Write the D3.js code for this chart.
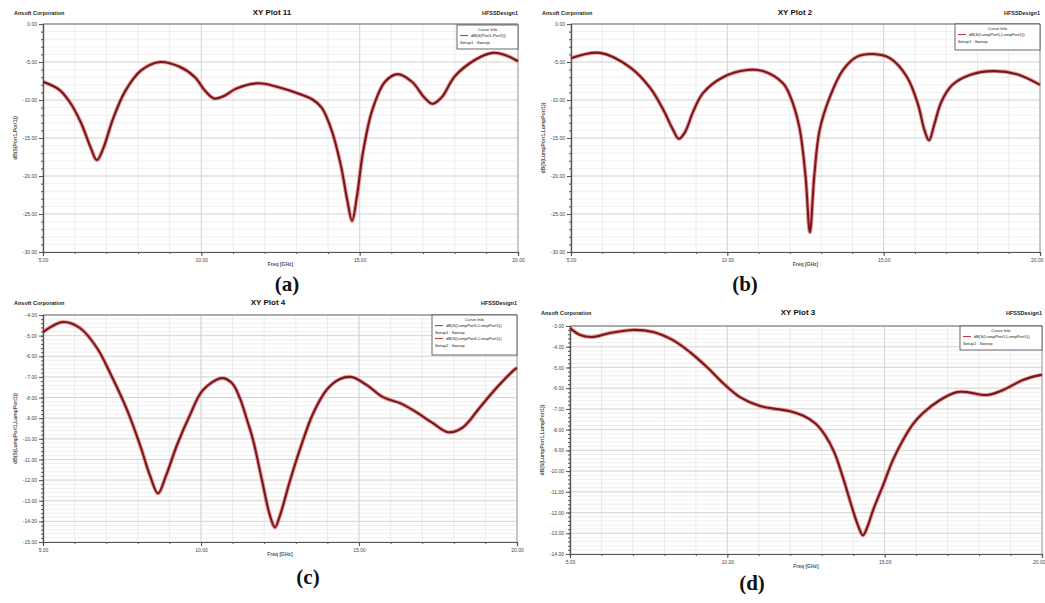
<!DOCTYPE html>
<html lang="en">
<head>
<meta charset="UTF-8" />
<title>HFSS XY Plots</title>
<style>
  body { margin: 0; background: #fff; }
  svg { display: block; font-family: Arial, "Liberation Sans", sans-serif; }
  .head { font-size: 5.5px; font-weight: bold; fill: #222; }
  .plot-title { font-size: 8px; font-weight: bold; fill: #111; }
  .tick-lbl text { font-size: 5px; fill: #444; }
  .axis path, .axis line { stroke: #555; }
  .ylab, .xlab { font-size: 5px; font-weight: bold; fill: #555; }
  .tag { font-family: "Liberation Serif", "DejaVu Serif", serif; font-size: 21px; font-weight: bold; fill: #111; }
  .legend text { font-size: 4.2px; fill: #222; }
</style>
</head>
<body>
<svg width="1045" height="603"></svg>
<script src="https://d3js.org/d3.v7.min.js"></script>
<script>
// --- values (Freq in GHz, dB) ---
const xTicks = [5, 10, 15, 20];

const freqA = [5.0, 5.5, 5.85, 6.2, 6.5, 6.7, 6.9, 7.2, 7.6, 8.1, 8.7, 9.3, 9.8, 10.1, 10.4, 10.7, 11.1, 11.8, 12.5, 13.1, 13.5, 13.8, 14.1, 14.4, 14.6, 14.76, 14.92, 15.1, 15.4, 15.8, 16.2, 16.65, 17.05, 17.3, 17.6, 18.0, 18.65, 19.2, 19.6, 20.0];
const dbA   = [-7.6, -8.6, -10.3, -13.0, -16.2, -17.9, -16.4, -12.6, -8.8, -6.1, -5.0, -5.6, -7.0, -8.7, -9.8, -9.5, -8.5, -7.8, -8.4, -9.2, -9.9, -11.0, -13.8, -18.5, -23.0, -25.9, -22.5, -17.0, -11.3, -7.6, -6.6, -7.6, -9.7, -10.5, -9.6, -6.9, -4.7, -3.8, -4.1, -4.9];

const freqB = [5.0, 5.93, 6.89, 7.53, 7.94, 8.25, 8.45, 8.65, 8.9, 9.22, 9.86, 10.63, 11.14, 11.78, 12.0, 12.3, 12.5, 12.64, 12.78, 12.95, 13.28, 13.7, 14.15, 14.66, 15.2, 15.75, 16.1, 16.3, 16.45, 16.62, 16.85, 17.2, 17.76, 18.5, 19.26, 20.0];
const dbB   = [-4.5, -3.8, -5.7, -8.4, -11.2, -13.8, -15.1, -14.2, -11.6, -9.1, -7.0, -6.05, -6.2, -7.8, -9.4, -13.5, -20.0, -27.4, -20.0, -14.0, -9.6, -6.05, -4.3, -3.95, -4.5, -7.0, -10.6, -13.9, -15.3, -13.2, -10.2, -8.0, -6.7, -6.2, -6.6, -8.0];

const freqC = [5.0, 5.63, 6.17, 6.71, 7.12, 7.66, 8.07, 8.39, 8.64, 8.89, 9.24, 9.65, 10.06, 10.66, 10.98, 11.23, 11.46, 11.65, 11.93, 12.18, 12.34, 12.5, 12.82, 13.2, 13.54, 13.99, 14.4, 14.78, 15.25, 15.76, 16.3, 16.71, 17.34, 17.82, 18.29, 18.83, 19.37, 19.94, 20.0];
const dbC   = [-4.83, -4.34, -4.63, -5.6, -6.8, -8.6, -10.3, -11.8, -12.64, -11.8, -10.3, -8.85, -7.64, -7.06, -7.30, -8.03, -9.10, -10.07, -12.01, -13.71, -14.29, -13.71, -12.01, -10.2, -8.8, -7.6, -7.1, -7.01, -7.40, -7.98, -8.27, -8.61, -9.24, -9.68, -9.44, -8.47, -7.50, -6.62, -6.57];

const freqD = [5.0, 5.32, 5.70, 6.27, 7.0, 7.64, 8.27, 8.81, 9.35, 9.86, 10.4, 11.04, 11.58, 11.99, 12.4, 12.8, 13.1, 13.4, 13.68, 13.99, 14.15, 14.31, 14.47, 14.63, 14.95, 15.26, 15.58, 15.9, 16.22, 16.76, 17.3, 17.62, 18.25, 18.76, 19.39, 19.94, 20.0];
const dbD   = [-3.10, -3.43, -3.53, -3.34, -3.19, -3.29, -3.68, -4.26, -4.98, -5.75, -6.43, -6.86, -7.01, -7.11, -7.32, -7.7, -8.25, -9.1, -10.34, -11.89, -12.61, -13.10, -12.61, -11.89, -10.68, -9.47, -8.51, -7.73, -7.20, -6.57, -6.19, -6.19, -6.33, -6.09, -5.61, -5.37, -5.37];

const yTicksA = [0, -5, -10, -15, -20, -25, -30];
const yTicksB = [0, -5, -10, -15, -20, -25, -30];
const yTicksC = [-4, -5, -6, -7, -8, -9, -10, -11, -12, -13, -14, -15];
const yTicksD = [-3, -4, -5, -6, -7, -8, -9, -10, -11, -12, -13, -14];

const titles = ["XY Plot 11", "XY Plot 2", "XY Plot 4", "XY Plot 3"];
const tags = ["(a)", "(b)", "(c)", "(d)"];
const traceNames = ["dB(S(Port1,Port1))", "dB(S(LumpPort1,LumpPort1))", "dB(S(LumpPort1,LumpPort1))", "dB(S(LumpPort1,LumpPort1))"];

const svg = d3.select("svg");

// layout of each panel (pixel boxes)
const panels = [
  { freq: freqA, db: dbA, yTicks: yTicksA, box: { l: 43, r: 518, t: 24, b: 252 }, headY: 15, titleX: 272, tagX: 287, tagY: 291,
    legend: { x: 457, y: 25, w: 61, h: 24 }, rows: [[traceNames[0], true], ["Setup1 : Sweep", false]] },
  { freq: freqB, db: dbB, yTicks: yTicksB, box: { l: 571, r: 1040, t: 24, b: 252 }, headY: 15, titleX: 795, tagX: 745, tagY: 291,
    legend: { x: 955, y: 24, w: 85, h: 26 }, rows: [[traceNames[1], true], ["Setup1 : Sweep", false]] },
  { freq: freqC, db: dbC, yTicks: yTicksC, box: { l: 43, r: 517, t: 315, b: 542 }, headY: 305, titleX: 268, tagX: 308, tagY: 584,
    legend: { x: 432, y: 315, w: 85, h: 40 }, rows: [[traceNames[2], true], ["Setup1 : Sweep", false], [traceNames[2], true], ["Setup2 : Sweep", false]] },
  { freq: freqD, db: dbD, yTicks: yTicksD, box: { l: 570, r: 1042, t: 326, b: 554 }, headY: 315, titleX: 798, tagX: 752, tagY: 590,
    legend: { x: 960, y: 326, w: 82, h: 24 }, rows: [[traceNames[3], true], ["Setup1 : Sweep", false]] }
];

panels.forEach((p, i) => {
  const { l, r, t, b } = p.box;
  const g = svg.append("g");

  const x = d3.scaleLinear().domain([5, 20]).range([l, r]);
  const yMax = d3.max(p.yTicks), yMin = d3.min(p.yTicks);
  const y = d3.scaleLinear().domain([yMin, yMax]).range([b, t]);
  const yStep = p.yTicks[0] - p.yTicks[1];

  const xMinor = d3.range(5, 20.001, 1);
  const yMinor = d3.range(yMin, yMax + 1e-6, yStep / 5);

  // header line
  g.append("text").attr("class", "head").attr("x", l - 29).attr("y", p.headY).text("Ansoft Corporation");
  g.append("text").attr("class", "head").attr("x", Math.min(r, 1043)).attr("y", p.headY).attr("text-anchor", "end").text("HFSSDesign1");
  g.append("text").attr("class", "plot-title").attr("x", p.titleX).attr("y", p.headY).attr("text-anchor", "middle").text(titles[i]);

  // grid
  g.append("g").selectAll("line").data(yMinor).join("line")
    .attr("x1", l).attr("x2", r).attr("y1", d => y(d)).attr("y2", d => y(d))
    .attr("stroke", "#ececec").attr("stroke-width", 0.8);
  g.append("g").selectAll("line").data(xMinor).join("line")
    .attr("y1", t).attr("y2", b).attr("x1", d => x(d)).attr("x2", d => x(d))
    .attr("stroke", "#e6e6e6").attr("stroke-width", 0.8);
  g.append("g").selectAll("line").data(p.yTicks).join("line")
    .attr("x1", l).attr("x2", r).attr("y1", d => y(d)).attr("y2", d => y(d))
    .attr("stroke", "#d4d4d4").attr("stroke-width", 0.9);
  g.append("g").selectAll("line").data(xTicks).join("line")
    .attr("y1", t).attr("y2", b).attr("x1", d => x(d)).attr("x2", d => x(d))
    .attr("stroke", "#d4d4d4").attr("stroke-width", 0.9);

  // frame
  g.append("line").attr("x1", l).attr("x2", r).attr("y1", t).attr("y2", t).attr("stroke", "#999").attr("stroke-width", 1.6);
  g.append("line").attr("x1", r).attr("x2", r).attr("y1", t).attr("y2", b).attr("stroke", "#aaa").attr("stroke-width", 1);

  // axes: minor ticks, then major ticks with labels
  g.append("g").attr("class", "axis").attr("transform", `translate(${l},0)`)
    .call(d3.axisLeft(y).tickValues(yMinor).tickSize(2).tickFormat(""));
  g.append("g").attr("class", "axis").attr("transform", `translate(0,${b})`)
    .call(d3.axisBottom(x).tickValues(xMinor).tickSize(2).tickFormat(""));
  g.append("g").attr("class", "axis tick-lbl").attr("transform", `translate(${l},0)`)
    .call(d3.axisLeft(y).tickValues(p.yTicks).tickSize(4).tickPadding(2).tickFormat(d => d.toFixed(2)));
  const xa = g.append("g").attr("class", "axis tick-lbl").attr("transform", `translate(0,${b})`)
    .call(d3.axisBottom(x).tickValues(xTicks).tickSize(4).tickPadding(2).tickFormat(d => d.toFixed(2)));
  // keep the last label inside the page
  xa.selectAll(".tick text").filter(d => x(d) > 1035).attr("text-anchor", "end").attr("dx", 3);
  g.selectAll(".axis .domain").attr("stroke", "#444").attr("stroke-width", 1.2);

  // axis titles
  g.append("text").attr("class", "xlab").attr("x", (l + r) / 2).attr("y", b + 14).attr("text-anchor", "middle").text("Freq [GHz]");
  g.append("text").attr("class", "ylab").attr("text-anchor", "middle")
    .attr("transform", `translate(${l - 26},${(t + b) / 2}) rotate(-90)`).text(traceNames[i]);

  // curve
  const pts = p.freq.map((f, k) => [f, p.db[k]]);
  const line = d3.line().x(d => x(d[0])).y(d => y(d[1])).curve(d3.curveCatmullRom.alpha(0.5));
  g.append("path").datum(pts).attr("d", line).attr("fill", "none")
    .attr("stroke", "#e04848").attr("stroke-width", 4).attr("stroke-opacity", 0.55);
  g.append("path").datum(pts).attr("d", line).attr("fill", "none")
    .attr("stroke", "#741a1e").attr("stroke-width", 2.1);

  // legend box
  const lg = g.append("g").attr("class", "legend");
  lg.append("rect").attr("x", p.legend.x).attr("y", p.legend.y).attr("width", p.legend.w).attr("height", p.legend.h)
    .attr("fill", "#fff").attr("stroke", "#444").attr("stroke-width", 0.8);
  lg.append("text").attr("x", p.legend.x + p.legend.w / 2).attr("y", p.legend.y + 5.5).attr("text-anchor", "middle").text("Curve Info");
  p.rows.forEach((row, k) => {
    const ry = p.legend.y + 12 + k * 6.5;
    if (row[1]) {
      lg.append("line").attr("x1", p.legend.x + 3).attr("x2", p.legend.x + 11).attr("y1", ry - 1.4).attr("y2", ry - 1.4)
        .attr("stroke", "#c82828").attr("stroke-width", 1);
      lg.append("text").attr("x", p.legend.x + 14).attr("y", ry).text(row[0]);
    } else {
      lg.append("text").attr("x", p.legend.x + 3).attr("y", ry).text(row[0]);
    }
  });

  // panel tag
  g.append("text").attr("class", "tag").attr("x", p.tagX).attr("y", p.tagY).attr("text-anchor", "middle").text(tags[i]);
});
</script>
</body>
</html>
